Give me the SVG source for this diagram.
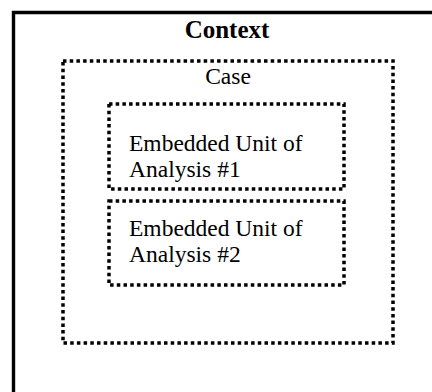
<svg xmlns="http://www.w3.org/2000/svg" width="432" height="392" viewBox="0 0 432 392">
<style>
.dot{fill:none;stroke:#000;stroke-width:3.5;stroke-dasharray:3.5 3.2}
.t{font-family:"Liberation Serif","Times New Roman",serif;font-size:23.5px;fill:#000}
.b{font-weight:bold;font-size:25px}
</style>
<rect width="432" height="392" fill="#fff"/>
<g id="context">
<path d="M13.5,392 V12.5 H432" fill="none" stroke="#000" stroke-width="3.4"/>
<text class="t b" x="227" y="38" text-anchor="middle">Context</text>
</g>
<g id="case">
<rect class="dot" x="63" y="61" width="330" height="282"/>
<text class="t" x="228" y="84" text-anchor="middle">Case</text>
</g>
<g id="unit1">
<rect class="dot" x="109" y="104" width="235" height="85"/>
<text class="t" x="129" y="151">Embedded Unit of</text>
<text class="t" x="129" y="177">Analysis #1</text>
</g>
<g id="unit2">
<rect class="dot" x="109" y="201" width="235" height="84"/>
<text class="t" x="129" y="236">Embedded Unit of</text>
<text class="t" x="129" y="262">Analysis #2</text>
</g>
<g id="connectors"></g>
</svg>
